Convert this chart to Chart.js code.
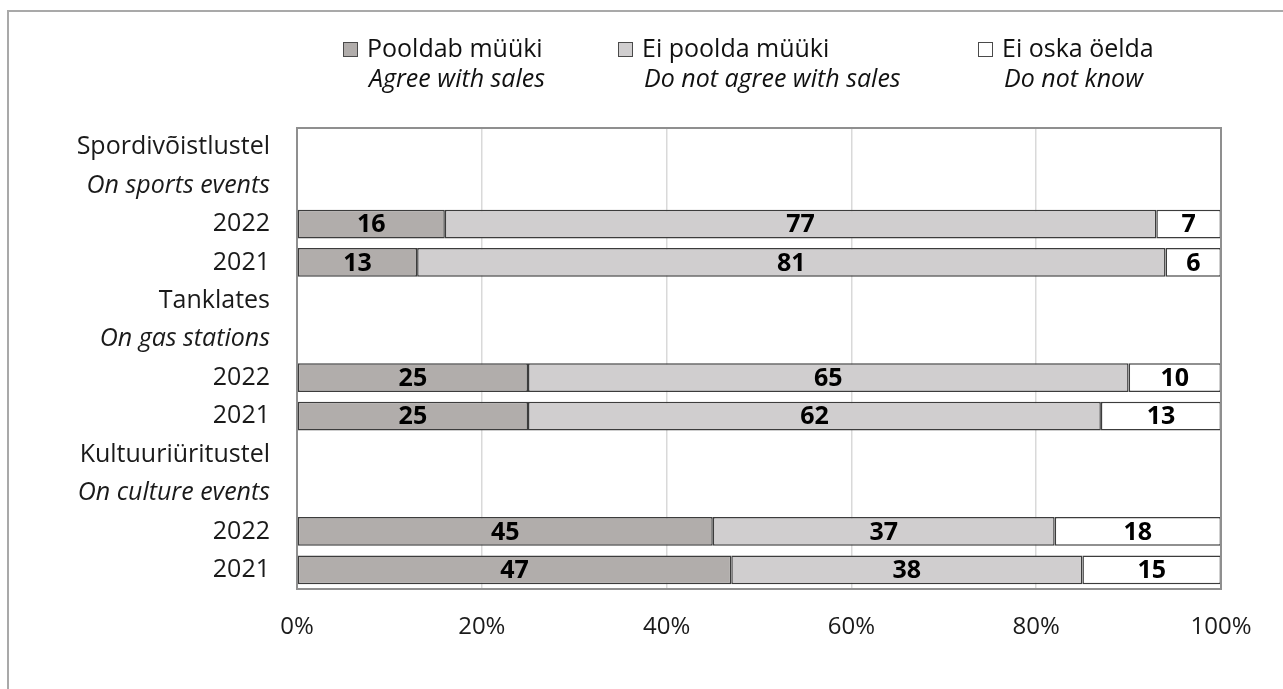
<!DOCTYPE html>
<html>
<head>
<meta charset="utf-8">
<script src="https://cdn.jsdelivr.net/npm/chart.js@4.4.0/dist/chart.umd.min.js"></script>
<style>
    html, body { margin: 0; padding: 0; background: #fff; }
    #wrap { position: relative; width: 1283px; height: 689px; overflow: hidden; }
    #frame {
        position: absolute; left: 7px; top: 10px; width: 1400px; height: 800px;
        border-top: 2px solid #a9a9a9; border-left: 2px solid #a9a9a9;
    }
    #chart { position: absolute; left: 0; top: 0; }
</style>
</head>
<body>
<div id="wrap">
    <div id="frame"></div>
    <canvas id="chart" width="1283" height="689"></canvas>
</div>
<script>
// rühmad ja aastad
const groupNames = ['Spordivõistlustel', 'Tanklates', 'Kultuuriüritustel'];
const groupNamesEn = ['On sports events', 'On gas stations', 'On culture events'];
const years = ['2022', '2021'];

// väärtused ridade kaupa (rühm -> 2022, 2021)
const agree = [16, 13, 25, 25, 45, 47];
const disagree = [77, 81, 65, 62, 37, 38];
const dontKnow = [7, 6, 10, 13, 18, 15];

const seriesNames = ['Pooldab müüki', 'Ei poolda müüki', 'Ei oska öelda'];
const seriesNamesEn = ['Agree with sales', 'Do not agree with sales', 'Do not know'];
const seriesColors = ['#b1adab', '#d0cecf', '#ffffff'];

const xTicks = [0, 20, 40, 60, 80, 100];

const FONT = '"Open Sans", "Noto Sans", sans-serif';

// kategooriad: kaks päiserida + aastad
let labels = [];
groupNames.forEach((g, i) => {
    labels.push(g, groupNamesEn[i]);
    years.forEach(y => labels.push(y));
});

function padRows(values) {
    let out = [];
    let k = 0;
    groupNames.forEach(() => {
        out.push(null, null);
        years.forEach(() => out.push(values[k++]));
    });
    return out;
}

// väärtuste sildid tulpade keskele
const valueLabels = {
    id: 'valueLabels',
    afterDatasetsDraw(chart) {
        const ctx = chart.ctx;
        ctx.save();
        ctx.font = 'bold 25px ' + FONT;
        ctx.fillStyle = '#000';
        ctx.textAlign = 'center';
        ctx.textBaseline = 'middle';
        chart.data.datasets.forEach((ds, di) => {
            chart.getDatasetMeta(di).data.forEach((el, i) => {
                const v = ds.data[i];
                if (v === null || v === undefined) return;
                const p = el.getCenterPoint();
                ctx.fillText(v, p.x, p.y + 1);
            });
        });
        ctx.restore();
    }
};

// joonise ala raam
const plotFrame = {
    id: 'plotFrame',
    afterDraw(chart) {
        const a = chart.chartArea;
        const ctx = chart.ctx;
        ctx.save();
        ctx.strokeStyle = '#8f8f8f';
        ctx.lineWidth = 2;
        ctx.strokeRect(a.left, a.top, a.right - a.left, a.bottom - a.top);
        ctx.restore();
    }
};

// kaherealine legend
const twoLineLegend = {
    id: 'twoLineLegend',
    afterDraw(chart) {
        const ctx = chart.ctx;
        const boxX = [343, 618, 978];
        ctx.save();
        seriesNames.forEach((name, i) => {
            ctx.fillStyle = seriesColors[i];
            ctx.fillRect(boxX[i], 42, 15, 15);
            ctx.strokeStyle = '#4a4a4a';
            ctx.lineWidth = 1;
            ctx.strokeRect(boxX[i] + 0.5, 42.5, 14, 14);
            ctx.fillStyle = '#111';
            ctx.textAlign = 'left';
            ctx.textBaseline = 'alphabetic';
            ctx.font = '25px ' + FONT;
            ctx.fillText(name, boxX[i] + 24, 57);
            ctx.font = 'italic 25px ' + FONT;
            ctx.fillText(seriesNamesEn[i], boxX[i] + 26, 87);
        });
        ctx.restore();
    }
};

const datasets = [agree, disagree, dontKnow].map((vals, i) => ({
    label: seriesNames[i],
    data: padRows(vals),
    backgroundColor: seriesColors[i],
    borderColor: '#3c3c3c',
    borderWidth: 1.5,
    borderSkipped: false,
    barPercentage: 0.75,
    categoryPercentage: 1
}));

new Chart(document.getElementById('chart'), {
    type: 'bar',
    data: { labels: labels, datasets: datasets },
    options: {
        indexAxis: 'y',
        responsive: false,
        animation: false,
        layout: { padding: { top: 128, right: 62, left: 0, bottom: 0 } },
        plugins: {
            legend: { display: false },
            tooltip: { enabled: false }
        },
        scales: {
            x: {
                stacked: true,
                min: 0,
                max: 100,
                afterFit(scale) { scale.height = 100; },
                afterBuildTicks(scale) { scale.ticks = xTicks.map(v => ({ value: v })); },
                grid: { color: '#d9d9d9', lineWidth: 1.5, drawTicks: false },
                border: { display: false },
                ticks: {
                    padding: 24,
                    color: '#1a1a1a',
                    font: { family: FONT, size: 24 },
                    callback: v => v + '%'
                }
            },
            y: {
                stacked: true,
                afterFit(scale) { scale.width = 297; },
                grid: { display: false, drawTicks: false },
                border: { display: false },
                ticks: {
                    padding: 27,
                    color: '#1a1a1a',
                    autoSkip: false,
                    font: ctx => ({
                        family: FONT,
                        size: 25,
                        style: ctx.index % 4 === 1 ? 'italic' : 'normal'
                    })
                }
            }
        }
    },
    plugins: [valueLabels, plotFrame, twoLineLegend]
});
</script>
</body>
</html>
